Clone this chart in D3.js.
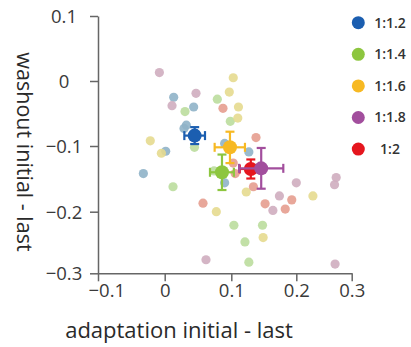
<!DOCTYPE html>
<html><head><meta charset="utf-8">
<script src="https://cdn.jsdelivr.net/npm/d3@7"></script>
<style>body{margin:0;background:#fff}</style>
</head><body>
<svg id="c" width="411" height="347"></svg>
<script>
// ---- data ----
const xTicks = [-0.1, 0, 0.1, 0.2, 0.3];
const yTicks = [0.1, 0, -0.1, -0.2, -0.3];
const groups = ["1:1.2", "1:1.4", "1:1.6", "1:1.8", "1:2"];
const meanColors = ["#1b5eb0", "#8dc63f", "#f7b923", "#a24e9d", "#e5161e"];
const lightColors = ["#8fb3c8", "#bbdd9d", "#e6da8f", "#cfadbf", "#e59d8f"];

// individual subjects: [x, y] per group
const pts12 = [[0.0135,-0.025],[0.0435,-0.040],[0.0325,-0.068],[0.029,-0.073],[0.0015,-0.108],[-0.032,-0.142],[0.090,-0.096],[0.127,-0.109],[0.090,-0.156]];
const pts14 = [[0.079,-0.028],[0.0305,-0.047],[0.0985,-0.062],[0.0447,-0.102],[0.0125,-0.162],[0.074,-0.138],[0.104,-0.222],[0.121,-0.249],[0.127,-0.282],[0.148,-0.222]];
const pts16 = [[0.103,0.005],[0.097,-0.017],[0.111,-0.040],[0.110,-0.057],[-0.0216,-0.092],[-0.005,-0.111],[0.0775,-0.200],[0.123,-0.170],[0.149,-0.242],[0.230,-0.176]];
const pts18 = [[-0.008,0.013],[0.047,-0.019],[0.011,-0.038],[0.062,-0.278],[0.200,-0.156],[0.272,-0.148],[0.269,-0.159],[0.174,-0.176],[0.164,-0.198],[0.270,-0.285]];
const pts20 = [[0.0875,-0.042],[0.138,-0.087],[0.103,-0.126],[0.106,-0.142],[0.134,-0.162],[0.152,-0.188],[0.0575,-0.187],[0.193,-0.182],[0.183,-0.196]];

// group means and SE
const meanX = [0.045, 0.086, 0.098, 0.146, 0.130];
const meanY = [-0.084, -0.140, -0.102, -0.134, -0.135];
const errX  = [0.0155, 0.018, 0.023, 0.034, 0.017];
const errY  = [0.013, 0.027, 0.024, 0.031, 0.0145];

// ---- chart ----
const svg = d3.select("#c");
const font = "'Open Sans', sans-serif";
const x = d3.scaleLinear().domain(xTicks).range([98, 164.7, 231.3, 296.3, 351.7]);
const y = d3.scaleLinear().domain(yTicks).range([16, 81, 146, 211.7, 273.3]);

const axisColor = "#666";
// x axis
const gx = svg.append("g").attr("transform", `translate(0,${y(-0.3)})`)
  .call(d3.axisBottom(x).tickValues(xTicks).tickSize(8).tickSizeOuter(0).tickFormat(d3.format("")));
gx.select(".domain").attr("stroke", axisColor).attr("stroke-width", 1.5);
gx.selectAll(".tick line").attr("stroke", axisColor).attr("stroke-width", 1.5);
gx.selectAll(".tick text").attr("font-family", font).attr("font-size", 18.5).attr("fill", "#3a3a3a")
  .attr("y", 11).attr("dy", "0.71em")
  .attr("text-anchor", d => d < 0 ? "start" : "middle")
  .attr("dx", d => d < 0 ? -10 : 0);

// y axis
const gy = svg.append("g").attr("transform", `translate(${x(-0.1)},0)`)
  .call(d3.axisLeft(y).tickValues(yTicks).tickSize(8).tickSizeOuter(0).tickFormat(d3.format("")));
gy.select(".domain").attr("stroke", axisColor).attr("stroke-width", 1.5);
gy.selectAll(".tick line").attr("stroke", axisColor).attr("stroke-width", 1.5);
gy.selectAll(".tick text").attr("font-family", font).attr("font-size", 18.5).attr("fill", "#3a3a3a")
  .attr("x", -34).attr("text-anchor", "middle").attr("dy", "0.35em");

// axis titles
svg.append("text").attr("x", 179).attr("y", 338).attr("text-anchor", "middle")
  .attr("font-family", font).attr("font-size", 22).attr("fill", "#2a2a2a")
  .text("adaptation initial - last");
svg.append("text").attr("transform", "translate(25,152) rotate(90)").attr("text-anchor", "middle")
  .attr("dy", "0.35em")
  .attr("font-family", font).attr("font-size", 21.5).attr("fill", "#2a2a2a")
  .text("washout initial - last");

// individual points
const allPts = [pts12, pts14, pts16, pts18, pts20];
const pg = svg.append("g");
allPts.forEach((arr, gi) => {
  pg.selectAll(null).data(arr).enter().append("circle")
    .attr("cx", d => x(d[0])).attr("cy", d => y(d[1])).attr("r", 4.6)
    .attr("fill", lightColors[gi]).attr("fill-opacity", 0.9);
});

// means with error bars
const order = [0, 2, 1, 4, 3];
const cap = 4.5;
order.forEach(i => {
  const g = svg.append("g").attr("stroke", meanColors[i]).attr("stroke-width", 2.2).attr("fill", "none");
  const cx = x(meanX[i]), cy = y(meanY[i]);
  const x0 = x(meanX[i] - errX[i]), x1 = x(meanX[i] + errX[i]);
  const y0 = y(meanY[i] + errY[i]), y1 = y(meanY[i] - errY[i]);
  g.append("line").attr("x1", x0).attr("x2", x1).attr("y1", cy).attr("y2", cy);
  g.append("line").attr("x1", cx).attr("x2", cx).attr("y1", y0).attr("y2", y1);
  g.append("line").attr("x1", x0).attr("x2", x0).attr("y1", cy - cap).attr("y2", cy + cap);
  g.append("line").attr("x1", x1).attr("x2", x1).attr("y1", cy - cap).attr("y2", cy + cap);
  g.append("line").attr("x1", cx - cap).attr("x2", cx + cap).attr("y1", y0).attr("y2", y0);
  g.append("line").attr("x1", cx - cap).attr("x2", cx + cap).attr("y1", y1).attr("y2", y1);
  svg.append("circle").attr("cx", cx).attr("cy", cy).attr("r", 7).attr("fill", meanColors[i]);
});

// legend
const lg = svg.append("g");
groups.forEach((gname, i) => {
  const ly = 22.7 + i * 31.6;
  lg.append("circle").attr("cx", 358.3).attr("cy", ly).attr("r", 6.5).attr("fill", meanColors[i]);
  lg.append("text").attr("x", 390).attr("y", ly).attr("dy", "0.35em").attr("text-anchor", "middle")
    .attr("font-family", font).attr("font-size", 14).attr("font-weight", 600).attr("fill", "#333")
    .text(gname);
});
</script>
</body></html>
